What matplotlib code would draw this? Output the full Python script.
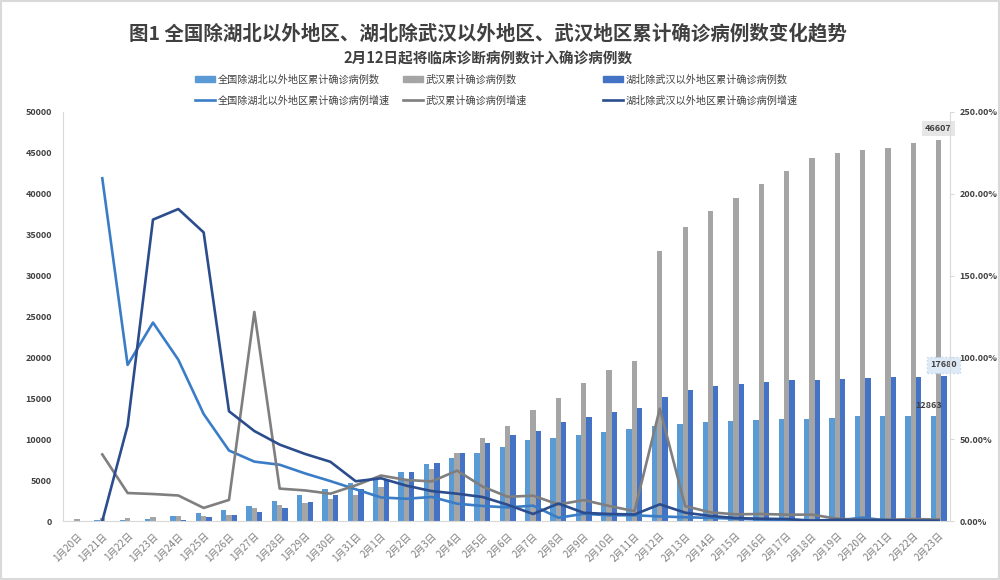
import numpy as np
import matplotlib
matplotlib.use('Agg')
import matplotlib.pyplot as plt
from matplotlib.lines import Line2D
from matplotlib.patches import Patch, Rectangle
from matplotlib.ticker import FuncFormatter, MultipleLocator

plt.rcParams['font.family'] = ['Noto Sans CJK SC', 'DejaVu Sans']

# DATA
dates = ['1月%d日' % d for d in range(20, 32)] + ['2月%d日' % d for d in range(1, 24)]

# cumulative confirmed cases
other_prov = [21, 65, 127, 281, 558, 923, 1321, 1801, 2420, 3125, 3886, 4638,
              5306, 6028, 6916, 7646, 8353, 9049, 9900, 10098, 10540, 10910, 11287,
              11598, 11865, 12086, 12251, 12366, 12447, 12503, 12545, 12803, 12834,
              12852, 12863]
wuhan = [258, 363, 425, 495, 572, 618, 698, 1590, 1905, 2261, 2639, 3215,
         4109, 5142, 6384, 8351, 10117, 11618, 13603, 14982, 16902, 18454, 19558,
         32994, 35991, 37914, 39462, 41152, 42752, 44412, 45027, 45346, 45660,
         46201, 46607]
hubei_ex_wh = [12, 12, 19, 54, 157, 434, 725, 1124, 1649, 2325, 3167, 3938,
               4965, 6035, 7138, 8327, 9548, 10494, 10950, 12118, 12729, 13274, 13808,
               15212, 15995, 16492, 16787, 17030, 17237, 17270, 17400, 17500, 17600,
               17650, 17680]

# growth of cumulative cases [%], no value on the first day
other_growth = [np.nan, 209.5, 95.4, 121.3, 98.6, 65.4, 43.1, 36.3, 34.4, 29.1, 24.4, 19.4,
                14.4, 13.6, 14.7, 10.6, 9.2, 8.3, 9.4, 2.0, 4.4, 3.5, 3.5,
                2.8, 2.3, 1.9, 1.4, 0.9, 0.7, 0.4, 0.3, 2.1, 0.2, 0.1, 0.1]
wuhan_growth = [np.nan, 40.7, 17.1, 16.5, 15.6, 8.0, 12.9, 127.8, 19.8, 18.7, 16.7, 21.8,
                27.8, 25.1, 24.2, 30.8, 21.1, 14.8, 15.5, 10.1, 12.8, 9.2, 6.0,
                68.7, 9.1, 5.3, 4.1, 4.3, 3.9, 3.9, 1.4, 0.7, 0.7, 1.2, 0.9]
hubei_growth = [np.nan, 0.0, 58.3, 184.2, 190.7, 176.4, 67.1, 55.0, 46.7, 41.0, 36.2, 24.3,
                26.1, 21.6, 18.3, 16.7, 14.7, 9.9, 4.3, 10.7, 5.0, 4.3, 4.0,
                10.2, 5.1, 3.1, 1.8, 1.4, 1.2, 0.2, 0.8, 0.6, 0.6, 0.3, 0.2]

names_bar = ['全国除湖北以外地区累计确诊病例数', '武汉累计确诊病例数', '湖北除武汉以外地区累计确诊病例数']
names_line = ['全国除湖北以外地区累计确诊病例增速', '武汉累计确诊病例增速', '湖北除武汉以外地区累计确诊病例增速']

BAR_COLORS = ['#5B9BD5', '#A5A5A5', '#4472C4']
LINE_COLORS = ['#3A7DC6', '#7F7F7F', '#2B4D8E']
AXIS_GRAY = '#D9D9D9'
TEXT_DARK = '#404040'

fig = plt.figure(figsize=(10, 5.8), dpi=100)
ax = fig.add_axes([0.063, 0.1017, 0.887, 0.7052])
ax2 = ax.twinx()

x = np.arange(len(dates))
w = 0.21
for k, series in enumerate([other_prov, wuhan, hubei_ex_wh]):
    ax.bar(x + (k - 1) * w, series, width=w, color=BAR_COLORS[k], zorder=2)

for k, series in enumerate([other_growth, wuhan_growth, hubei_growth]):
    ax2.plot(x, np.array(series) / 100.0, color=LINE_COLORS[k], lw=1.9, zorder=3)

ax.set_xlim(-0.55, 34.45)
ax.set_ylim(0, 50000)
ax.yaxis.set_major_locator(MultipleLocator(5000))
ax2.set_ylim(0, 2.5)
ax2.yaxis.set_major_locator(MultipleLocator(0.5))
ax2.yaxis.set_major_formatter(FuncFormatter(lambda v, p: '%.2f%%' % (v * 100)))

ax.set_xticks(x)
ax.set_xticklabels(dates, rotation=45, ha='right', rotation_mode='anchor',
                   fontsize=7, color='#7F7F7F')
ax.tick_params(axis='x', length=0, pad=7)
ax.tick_params(axis='y', length=0, labelsize=6.5, labelcolor=TEXT_DARK, pad=8)
ax2.tick_params(axis='y', length=3, color=AXIS_GRAY, labelsize=6.5,
                labelcolor=TEXT_DARK, pad=4)
for lab in ax.get_yticklabels() + ax2.get_yticklabels():
    lab.set_fontweight('bold')

for a in (ax, ax2):
    for s in a.spines.values():
        s.set_visible(False)
ax.spines['left'].set_visible(True)
ax.spines['left'].set_color(AXIS_GRAY)
ax.spines['bottom'].set_visible(True)
ax.spines['bottom'].set_color(AXIS_GRAY)
ax2.spines['right'].set_visible(True)
ax2.spines['right'].set_color(AXIS_GRAY)

# data labels on the last day
ax.annotate('%d' % wuhan[-1], xy=(x[-1], wuhan[-1]), xytext=(0, 5),
            textcoords='offset points', ha='center', va='bottom', fontsize=6.5,
            fontweight='bold', fontstyle='italic', color=TEXT_DARK, zorder=5,
            bbox=dict(boxstyle='square,pad=0.35', fc='#E7E6E6', ec='none'))
ax.annotate('%d' % hubei_ex_wh[-1], xy=(x[-1] + w, hubei_ex_wh[-1]), xytext=(0, 5),
            textcoords='offset points', ha='center', va='bottom', fontsize=6.5,
            fontweight='bold', color=TEXT_DARK, zorder=5,
            bbox=dict(boxstyle='square,pad=0.35', fc='#DEEBF7', ec='#BDD7EE', ls=':'))
ax.annotate('%d' % other_prov[-1], xy=(x[-1] - w, other_prov[-1]), xytext=(-3, 4),
            textcoords='offset points', ha='center', va='bottom', fontsize=6.5,
            fontweight='bold', color=TEXT_DARK, zorder=5)

# titles
fig.text(0.488, 0.943, '图1 全国除湖北以外地区、湖北除武汉以外地区、武汉地区累计确诊病例数变化趋势',
         ha='center', va='center', fontsize=14, fontweight='heavy', color=TEXT_DARK)
fig.text(0.488, 0.900, '2月12日起将临床诊断病例数计入确诊病例数',
         ha='center', va='center', fontsize=10.5, fontweight='bold', color=TEXT_DARK)

# legend, three columns of bar + line
col_x = [0.195, 0.403, 0.603]
for k in range(3):
    handles = [Patch(color=BAR_COLORS[k]), Line2D([], [], color=LINE_COLORS[k], lw=1.9)]
    fig.legend(handles, [names_bar[k], names_line[k]], loc='upper left',
               bbox_to_anchor=(col_x[k], 0.872), frameon=False, ncol=1,
               fontsize=7.3, handlelength=2.0, handleheight=0.45,
               handletextpad=0.2, labelspacing=1.05, borderaxespad=0,
               borderpad=0, labelcolor=TEXT_DARK)

# light frame around the whole picture
fig.patches.append(Rectangle((0.001, 0.002), 0.998, 0.996, transform=fig.transFigure,
                             fill=False, ec=AXIS_GRAY, lw=1.5))

fig.savefig('out.png', dpi=100)
